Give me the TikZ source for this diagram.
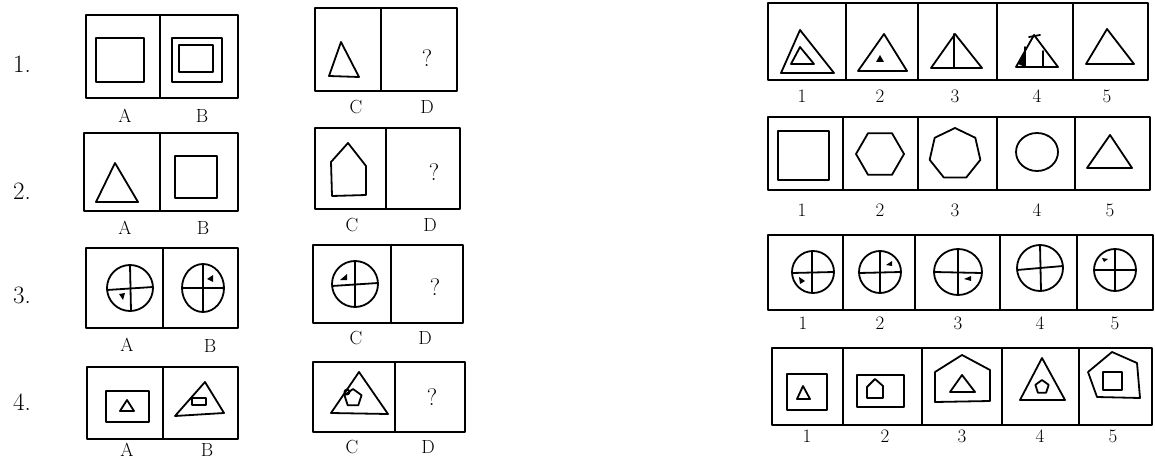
\documentclass[tikz,border=0pt]{standalone}
\begin{document}
\begin{tikzpicture}[x=1pt,y=-1pt,line join=round,line cap=round,
  frame/.style={line width=2pt},
  fig/.style={line width=1.8pt},
  lab/.style={font=\fontsize{19}{20}\selectfont},
  num/.style={font=\fontsize{25}{26}\selectfont},
  qm/.style={font=\fontsize{24}{26}\selectfont}]
\useasboundingbox (0,0) rectangle (1155,462);
% ---------------- row numbers
\node[num] (n1) at (22,64) {1.};
\node[num] (n2) at (22,191) {2.};
\node[num] (n3) at (22,295) {3.};
\node[num] (n4) at (22,402) {4.};
% ---------------- A/B column
\draw[frame] (86,15) rectangle (238,98); \draw[frame] (160,15) -- (160,98);
\node[lab] (a1) at (125,116) {A}; \node[lab] (b1) at (202,116) {B};
\draw[fig] (96,38) rectangle (144,82);
\draw[fig] (172,38) rectangle (222,82); \draw[fig] (179,45) rectangle (213,72);

\draw[frame] (84,133) rectangle (238,211); \draw[frame] (160,133) -- (160,211);
\node[lab] (a2) at (125,228) {A}; \node[lab] (b2) at (203,228) {B};
\draw[fig] (115,163) -- (138,202) -- (96,202) -- cycle;
\draw[fig] (175,156) rectangle (217,198);

\draw[frame] (86,248) rectangle (238,328); \draw[frame] (163,248) -- (163,328);
\node[lab] (a3) at (127,345) {A}; \node[lab] (b3) at (210,346) {B};
\draw[fig] (130,288) circle[radius=23pt];
\draw[fig] (107,290) -- (153,287); \draw[fig] (130,265) -- (131,311);
\fill (119,294) -- (125,293) -- (123,300) -- cycle;
\draw[fig] (203,288) ellipse[x radius=21pt,y radius=24pt];
\draw[fig] (182,288) -- (224,288); \draw[fig] (203,264) -- (203,312);
\fill (207,279) -- (213,275) -- (213,282) -- cycle;

\draw[frame] (87,367) rectangle (238,439); \draw[frame] (163,367) -- (163,439);
\node[lab] (a4) at (127,450) {A}; \node[lab] (b4) at (207,450) {B};
\draw[fig] (106,391) rectangle (149,422);
\draw[fig] (127,400) -- (134,411) -- (120,411) -- cycle;
\draw[fig] (205,382) -- (224,413) -- (175,416) -- cycle;
\draw[fig] (192,398) rectangle (206,405);
% ---------------- C/D column
\draw[frame] (315,8) rectangle (457,91); \draw[frame] (381,8) -- (381,91);
\node[lab] (c1) at (356,107) {C}; \node[lab] (d1) at (427,107) {D};
\draw[fig] (341,42) -- (359,77) -- (329,76) -- cycle;
\node[qm] (q1) at (427,58) {?};

\draw[frame] (315,128) rectangle (460,209); \draw[frame] (386,128) -- (386,209);
\node[lab] (c2) at (352,225) {C}; \node[lab] (d2) at (430,225) {D};
\draw[fig] (348,143) -- (366,166) -- (366,195) -- (332,196) -- (331,162) -- cycle;
\node[qm] (q2) at (434,172) {?};

\draw[frame] (313,245) rectangle (463,323); \draw[frame] (391,245) -- (391,323);
\node[lab] (c3) at (356,338) {C}; \node[lab] (d3) at (425,338) {D};
\draw[fig] (355,284) circle[radius=23pt];
\draw[fig] (332,286) -- (378,283); \draw[fig] (355,261) -- (355,307);
\fill (340,280) -- (347,274) -- (347,280) -- cycle;
\node[qm] (q3) at (435,287) {?};

\draw[frame] (313,362) rectangle (465,432); \draw[frame] (395,362) -- (395,432);
\node[lab] (c4) at (352,447) {C}; \node[lab] (d4) at (428,447) {D};
\draw[fig] (359,372) -- (388,414) -- (331,413) -- cycle;
\draw[fig] (353,398) +(90:9pt) -- +(18:9pt) -- +(-54:9pt) -- +(-126:9pt) -- +(162:9pt) -- cycle;
\draw[fig] (347,392) circle[radius=2.5pt];
\node[qm] (q4) at (432,397) {?};
% ---------------- answer rows
\draw[frame] (768,3) rectangle (1148,80);
\foreach \x in {846,918,997,1073} \draw[frame] (\x,3) -- (\x,80);
\foreach \x/\t in {802/1,880/2,955/3,1037/4,1107/5} \node[lab] (r1\t) at (\x,96) {\t};
\draw[fig] (800,30) -- (834,73) -- (781,73) -- cycle;
\draw[fig] (800,47) -- (814,64) -- (791,64) -- cycle;
\draw[fig] (884,34) -- (907,71) -- (858,71) -- cycle;
\fill (880,55) -- (884,62) -- (876,62) -- cycle;
\draw[fig] (955,34) -- (982,68) -- (931,68) -- cycle; \draw[fig] (954,34) -- (954,68);
\draw[fig] (1034,35) -- (1058,67) -- (1016,67) -- cycle;
\draw[fig] (1029,37) -- (1040,35);
\draw[fig] (1025,47) -- (1025,67); \draw[fig] (1043,51) -- (1043,67);
\fill (1025,52) -- (1025,67) -- (1018,64) -- cycle;
\draw[fig] (1107,29) -- (1134,64) -- (1086,64) -- cycle;

\draw[frame] (768,117) rectangle (1150,190);
\foreach \x in {843,918,997,1075} \draw[frame] (\x,117) -- (\x,190);
\foreach \x/\t in {802/1,880/2,955/3,1037/4,1110/5} \node[lab] (r2\t) at (\x,210) {\t};
\draw[fig] (778,131) rectangle (829,180);
\draw[fig] (880,154) +(0:24pt) -- +(60:24pt) -- +(120:24pt) -- +(180:24pt) -- +(240:24pt) -- +(300:24pt) -- cycle;
\draw[fig] (955,154) +(90:26pt) -- +(38.6:26pt) -- +(-12.9:26pt) -- +(-64.3:26pt) -- +(-115.7:26pt) -- +(-167.1:26pt) -- +(141.4:26pt) -- cycle;
\draw[fig] (1037,152) ellipse[x radius=21pt,y radius=19pt];
\draw[fig] (1110,135) -- (1132,168) -- (1087,168) -- cycle;

\draw[frame] (768,235) rectangle (1153,310);
\foreach \x in {843,915,1000,1077} \draw[frame] (\x,235) -- (\x,310);
\foreach \x/\t in {803/1,880/2,958/3,1040/4,1115/5} \node[lab] (r3\t) at (\x,323) {\t};
\draw[fig] (813,272) circle[radius=21pt];
\draw[fig] (792,273) -- (834,272); \draw[fig] (812,251) -- (812,293);
\fill (799,277) -- (805,281) -- (800,284) -- cycle;
\draw[fig] (880,272) circle[radius=21pt];
\draw[fig] (859,273) -- (901,272); \draw[fig] (880,251) -- (880,293);
\fill (886,265) -- (892,261) -- (892,266) -- cycle;
\draw[fig] (958,272) ellipse[x radius=24pt,y radius=23pt];
\draw[fig] (934,272) -- (982,273); \draw[fig] (958,249) -- (958,295);
\fill (964,279) -- (971,276) -- (971,281) -- cycle;
\draw[fig] (1040,268) circle[radius=23pt];
\draw[fig] (1017,270) -- (1063,266); \draw[fig] (1040,245) -- (1041,291);
\draw[fig] (1115,270) circle[radius=21pt];
\draw[fig] (1094,270) -- (1136,270); \draw[fig] (1115,249) -- (1115,291);
\fill (1102,258) -- (1108,259) -- (1104,262) -- cycle;

\draw[frame] (772,348) rectangle (1152,425);
\foreach \x in {843,922,1002,1079} \draw[frame] (\x,348) -- (\x,425);
\foreach \x/\t in {807/1,885/2,962/3,1040/4,1113/5} \node[lab] (r4\t) at (\x,436) {\t};
\draw[fig] (787,374) rectangle (827,410);
\draw[fig] (803,386) -- (810,399) -- (797,399) -- cycle;
\draw[fig] (857,375) rectangle (904,407);
\draw[fig] (875,379) -- (883,386) -- (883,398) -- (867,398) -- (867,387) -- cycle;
\draw[fig] (962,355) -- (990,370) -- (990,401) -- (935,402) -- (935,372) -- cycle;
\draw[fig] (962,375) -- (975,392) -- (950,392) -- cycle;
\draw[fig] (1042,358) -- (1065,400) -- (1020,400) -- cycle;
\draw[fig] (1042,387) +(90:7pt) -- +(18:7pt) -- +(-54:7pt) -- +(-126:7pt) -- +(162:7pt) -- cycle;
\draw[fig] (1112,352) -- (1137,363) -- (1140,398) -- (1097,397) -- (1088,372) -- cycle;
\draw[fig] (1103,372) rectangle (1122,390);
\end{tikzpicture}
\end{document}
